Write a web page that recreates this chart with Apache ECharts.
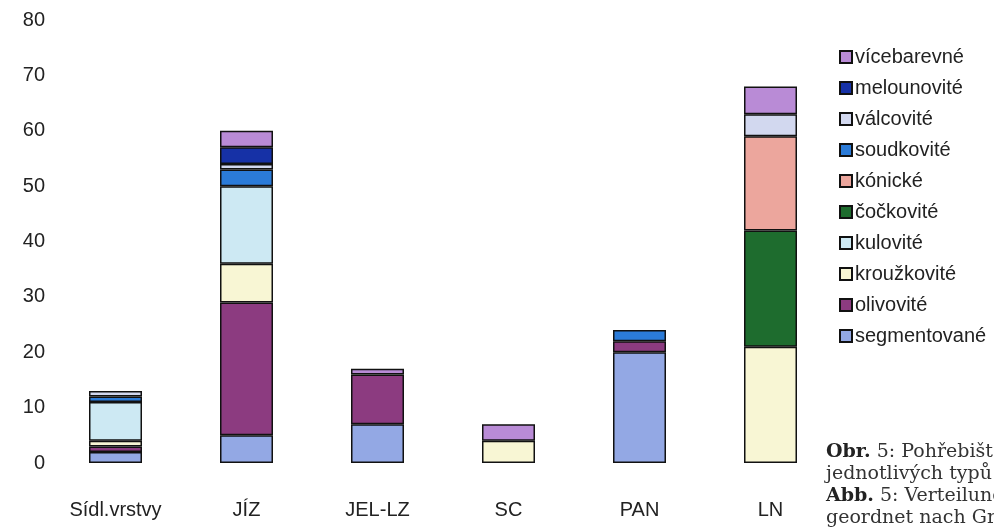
<!DOCTYPE html>
<html><head><meta charset="utf-8">
<script src="https://cdn.jsdelivr.net/npm/echarts@6/dist/echarts.min.js"></script>
<style>html,body{margin:0;padding:0;background:#fff}#c{width:994px;height:532px}</style>
</head><body><div id="c"></div>
<script>
const categories = ['Sídl.vrstvy', 'JÍZ', 'JEL-LZ', 'SC', 'PAN', 'LN'];
const yTicks = [0, 10, 20, 30, 40, 50, 60, 70, 80];
const segmentovane = [2, 5, 7, 0, 20, 0];
const olivovite    = [1, 24, 9, 0, 2, 0];
const krouzkovite  = [1, 7, 0, 4, 0, 21];
const kulovite     = [7, 14, 0, 0, 0, 0];
const cockovite    = [0, 0, 0, 0, 0, 21];
const konicke      = [0, 0, 0, 0, 0, 17];
const soudkovite   = [1, 3, 0, 0, 2, 0];
const valcovite    = [1, 1, 0, 0, 0, 4];
const melounovite  = [0, 3, 0, 0, 0, 0];
const vicebarevne  = [0, 3, 1, 3, 0, 5];

const seriesDefs = [
  ['segmentované', segmentovane, '#93a8e4'],
  ['olivovité', olivovite, '#8c3b80'],
  ['kroužkovité', krouzkovite, '#f8f6d4'],
  ['kulovité', kulovite, '#cde9f3'],
  ['čočkovité', cockovite, '#1e6c2e'],
  ['kónické', konicke, '#eca69d'],
  ['soudkovité', soudkovite, '#2b7bd8'],
  ['válcovité', valcovite, '#d2d8ef'],
  ['melounovité', melounovite, '#1631a6'],
  ['vícebarevné', vicebarevne, '#b98bd6']
];

const sans = 'Liberation Sans, Arial, sans-serif';
const chart = echarts.init(document.getElementById('c'));
chart.setOption({
  backgroundColor: '#fff',
  animation: false,
  grid: { left: 50, right: 158, top: 20, bottom: 69 },
  xAxis: {
    type: 'category', data: categories,
    axisLine: { show: false }, axisTick: { show: false },
    axisLabel: { color: '#222', fontSize: 20, fontFamily: sans, margin: 37 }
  },
  yAxis: {
    type: 'value', min: yTicks[0], max: yTicks[yTicks.length - 1], interval: 10,
    axisLine: { show: false }, axisTick: { show: false }, splitLine: { show: false },
    axisLabel: { color: '#222', fontSize: 20, fontFamily: sans, margin: 5 }
  },
  legend: {
    orient: 'vertical', left: 834, top: 42, itemGap: 11,
    itemWidth: 12, itemHeight: 12,
    data: seriesDefs.map(d => d[0]).reverse(),
    textStyle: { color: '#222', fontSize: 20, fontFamily: sans, padding: [0, 0, 0, -2] },
    icon: 'rect'
  },
  series: seriesDefs.map(([name, vals, color]) => ({
    name, type: 'bar', stack: 'total', barWidth: 53,
    data: vals.map(v => v === 0 ? '-' : v),
    itemStyle: { color, borderColor: '#111', borderWidth: 1.5 }
  })),
  graphic: [{
    type: 'text', left: 826, top: 441,
    style: {
      text: '{b|Obr.} 5: Pohřebiště\njednotlivých typů\n{b|Abb.} 5: Verteilung\ngeordnet nach Gr',
      fontFamily: 'DejaVu Serif, Liberation Serif, serif', fontSize: 19, lineHeight: 22, fill: '#333',
      rich: { b: { fontWeight: 'bold', fontFamily: 'DejaVu Serif, Liberation Serif, serif', fontSize: 19, lineHeight: 22, fill: '#222' } }
    }
  }]
});
</script></body></html>
